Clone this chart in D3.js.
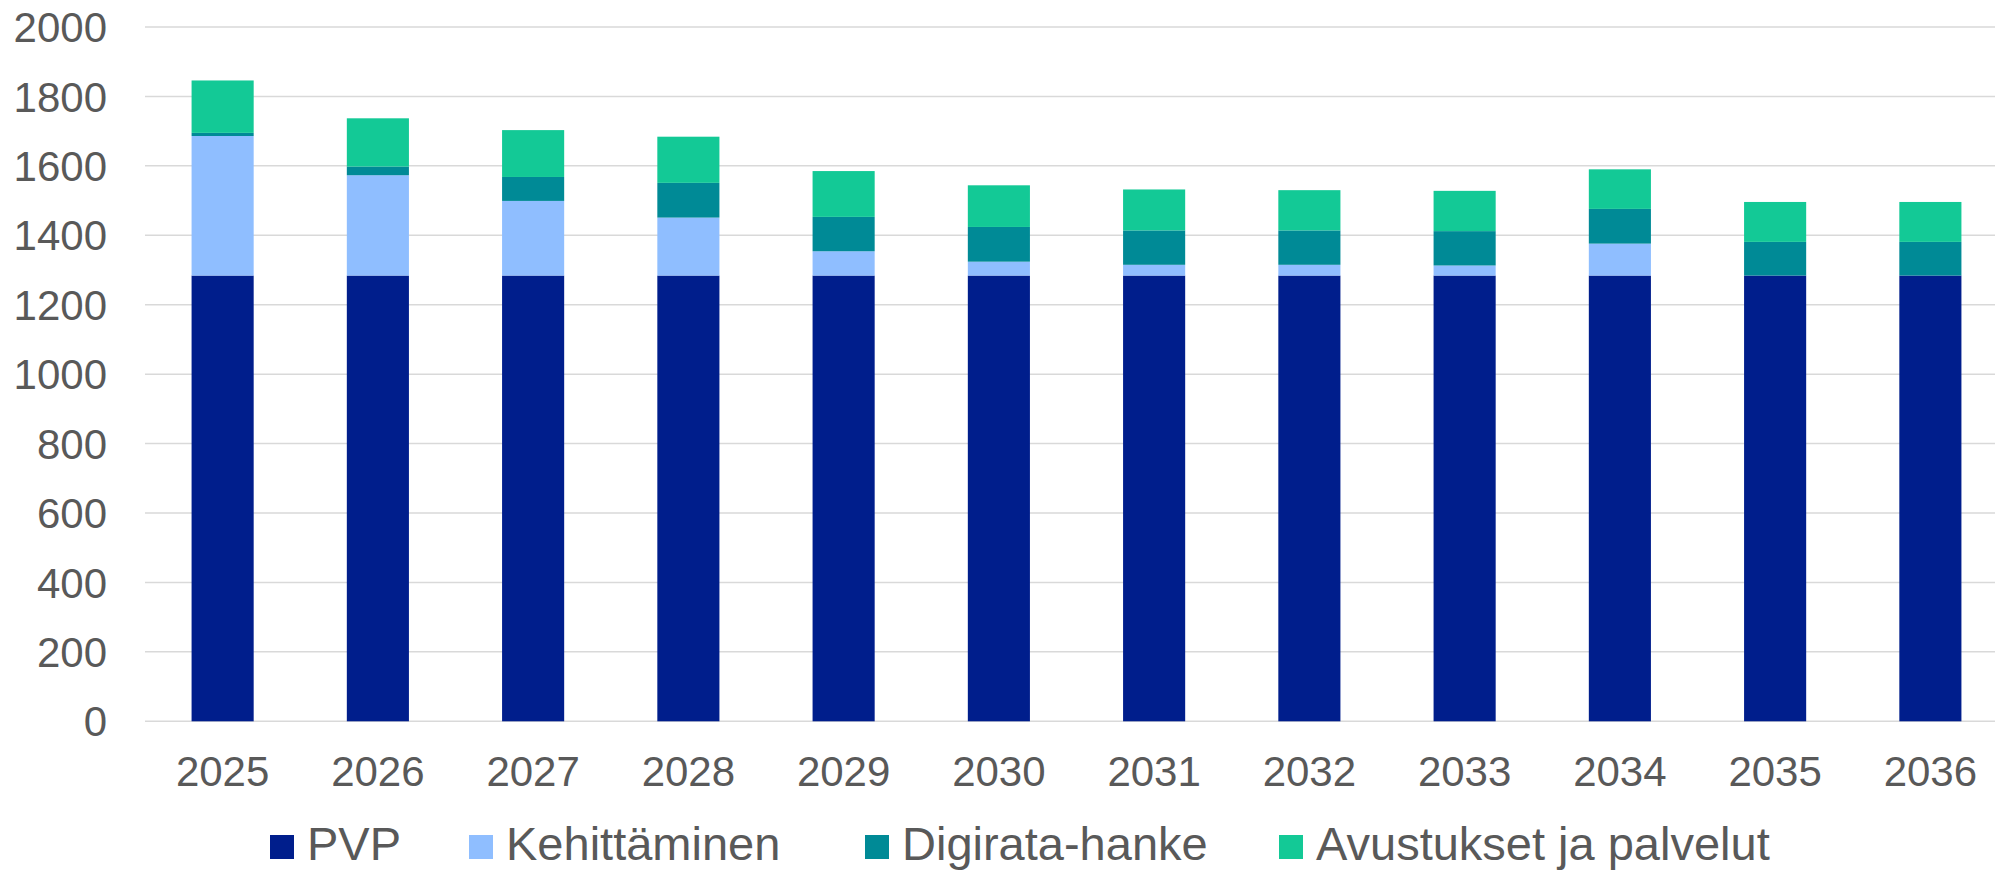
<!DOCTYPE html>
<html>
<head>
<meta charset="utf-8">
<script src="https://cdn.jsdelivr.net/npm/d3@7"></script>
<style>
  html, body { margin: 0; padding: 0; background: #fff; }
  svg { display: block; }
  text { font-family: "Liberation Sans", Arial, sans-serif; fill: #595959; }
</style>
</head>
<body>
<svg id="chart"></svg>
<script>
// data
var years = ['2025', '2026', '2027', '2028', '2029', '2030', '2031', '2032', '2033', '2034', '2035', '2036'];
var seriesNames = ['PVP', 'Kehittäminen', 'Digirata-hanke', 'Avustukset ja palvelut'];
var pvp = [1284, 1284, 1284, 1284, 1284, 1284, 1284, 1284, 1284, 1284, 1284, 1284];
var kehittaminen = [402, 289, 215, 167, 70, 40, 31, 31, 29, 92, 0, 0];
var digirata = [9, 25, 69, 100, 99, 100, 99, 99, 99, 100, 97, 97];
var avustukset = [151, 139, 135, 133, 132, 120, 118, 116, 116, 114, 115, 115];
var yTicks = [0, 200, 400, 600, 800, 1000, 1200, 1400, 1600, 1800, 2000];

var config = {
    width: 1995,
    height: 871,
    left: 145,
    right: 2008,
    top: 27,
    bottom: 721.3,
    colors: ['#001e8c', '#8fbeff', '#008a96', '#13c996']
};

var rows = years.map(function(y, i) {
    return {
        year: y,
        'PVP': pvp[i],
        'Kehittäminen': kehittaminen[i],
        'Digirata-hanke': digirata[i],
        'Avustukset ja palvelut': avustukset[i]
    };
});

var svg = d3.select('#chart')
    .attr('width', config.width)
    .attr('height', config.height);

var x = d3.scaleBand()
    .domain(years)
    .range([config.left, config.right])
    .paddingInner(0.6)
    .paddingOuter(0.3);

var y = d3.scaleLinear()
    .domain([0, 2000])
    .range([config.bottom, config.top]);

var color = d3.scaleOrdinal().domain(seriesNames).range(config.colors);

// gridlines
svg.append('g')
    .selectAll('line')
    .data(yTicks)
    .enter()
    .append('line')
    .attr('x1', config.left)
    .attr('x2', config.right)
    .attr('y1', function(d) { return y(d); })
    .attr('y2', function(d) { return y(d); })
    .attr('stroke', '#d9d9d9')
    .attr('stroke-width', 1.5);

// y labels
svg.append('g')
    .selectAll('text')
    .data(yTicks)
    .enter()
    .append('text')
    .attr('x', 107)
    .attr('y', function(d) { return y(d); })
    .attr('dy', '0.36em')
    .attr('text-anchor', 'end')
    .style('font-size', '42px')
    .text(function(d) { return d; });

// stacked bars
var stacked = d3.stack().keys(seriesNames)(rows);

svg.append('g')
    .selectAll('g')
    .data(stacked)
    .enter()
    .append('g')
    .attr('fill', function(d) { return color(d.key); })
    .selectAll('rect')
    .data(function(d) { return d; })
    .enter()
    .append('rect')
    .attr('x', function(d) { return x(d.data.year); })
    .attr('width', x.bandwidth())
    .attr('y', function(d) { return y(d[1]); })
    .attr('height', function(d) { return y(d[0]) - y(d[1]); });

// x labels
svg.append('g')
    .selectAll('text')
    .data(years)
    .enter()
    .append('text')
    .attr('x', function(d) { return x(d) + x.bandwidth() / 2; })
    .attr('y', 786)
    .attr('text-anchor', 'middle')
    .style('font-size', '42px')
    .text(function(d) { return d; });

// legend
var legendX = [270, 469, 865, 1279];
var legend = svg.append('g')
    .selectAll('g')
    .data(seriesNames)
    .enter()
    .append('g')
    .attr('transform', function(d, i) { return 'translate(' + legendX[i] + ',0)'; });

legend.append('rect')
    .attr('x', 0)
    .attr('y', 835)
    .attr('width', 24)
    .attr('height', 24)
    .attr('fill', function(d) { return color(d); });

legend.append('text')
    .attr('x', 37)
    .attr('y', 860)
    .style('font-size', '47px')
    .text(function(d) { return d; });
</script>
</body>
</html>
